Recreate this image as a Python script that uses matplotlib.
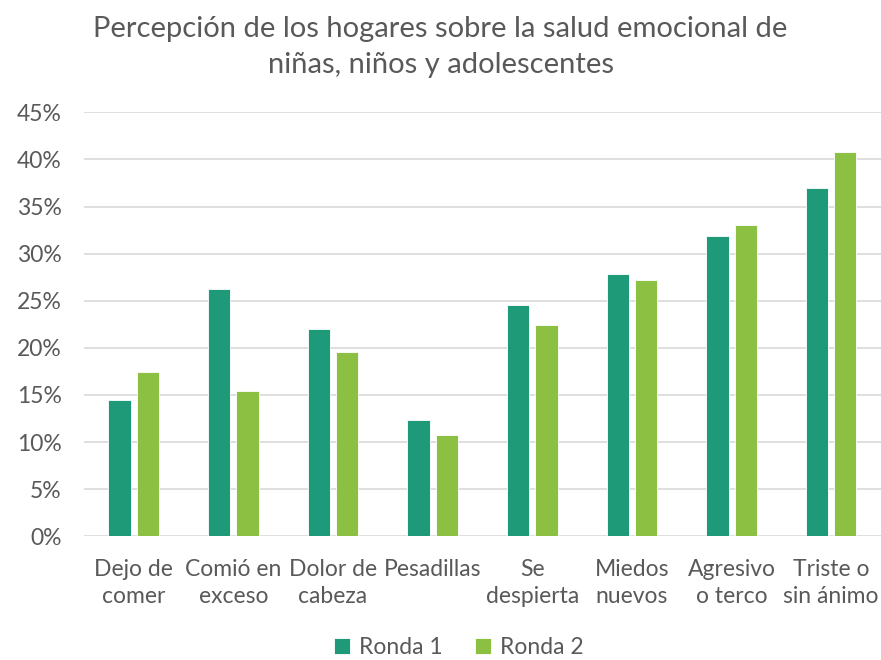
import numpy as np
import matplotlib.pyplot as plt
from matplotlib.ticker import PercentFormatter

plt.rcParams['font.family'] = ['Lato', 'DejaVu Sans']

# data (percent)
categorias = ['Dejo de\ncomer', 'Comió en\nexceso', 'Dolor de\ncabeza', 'Pesadillas',
              'Se\ndespierta', 'Miedos\nnuevos', 'Agresivo\no terco', 'Triste o\nsin ánimo']
ronda1 = [14.5, 26.3, 22.0, 12.3, 24.5, 27.8, 31.9, 37.0]
ronda2 = [17.4, 15.4, 19.6, 10.8, 22.4, 27.2, 33.0, 40.8]

gris = '#595959'
verde1 = '#1e9a78'
verde2 = '#8bc043'

fig = plt.figure(figsize=(8.81, 6.6), dpi=100)
ax = fig.add_axes([0.0953, 0.1874, 0.9047, 0.6424])

x = np.arange(len(categorias))
w = 0.224
ax.bar(x - 0.142, ronda1, w, color=verde1, edgecolor='white', linewidth=0.6, label='Ronda 1', zorder=3)
ax.bar(x + 0.142, ronda2, w, color=verde2, edgecolor='white', linewidth=0.6, label='Ronda 2', zorder=3)

ax.set_xlim(-0.5, len(categorias) - 0.5)
ax.set_ylim(0, 45)
ax.set_yticks(np.arange(0, 46, 5))
ax.yaxis.set_major_formatter(PercentFormatter(decimals=0))
ax.grid(axis='y', color='#d9d9d9', linewidth=1.2, zorder=0)
for s in ax.spines.values():
    s.set_visible(False)
ax.tick_params(length=0, labelsize=16.5, colors=gris)
ax.set_xticks(x)
ax.set_xticklabels(categorias, linespacing=1.4)
ax.tick_params(axis='x', pad=16)
ax.tick_params(axis='y', pad=16)

fig.suptitle('Percepción de los hogares sobre la salud emocional de\nniñas, niños y adolescentes',
             y=0.975, fontsize=21, color=gris, linespacing=1.45)

ax.legend(loc='upper center', bbox_to_anchor=(0.47, -0.226), ncol=2, frameon=False,
          fontsize=16.5, labelcolor=gris, handlelength=0.7, handleheight=0.7,
          columnspacing=1.4, handletextpad=0.4, borderaxespad=0.0, borderpad=0.2)

fig.savefig('out.png', dpi=100)
